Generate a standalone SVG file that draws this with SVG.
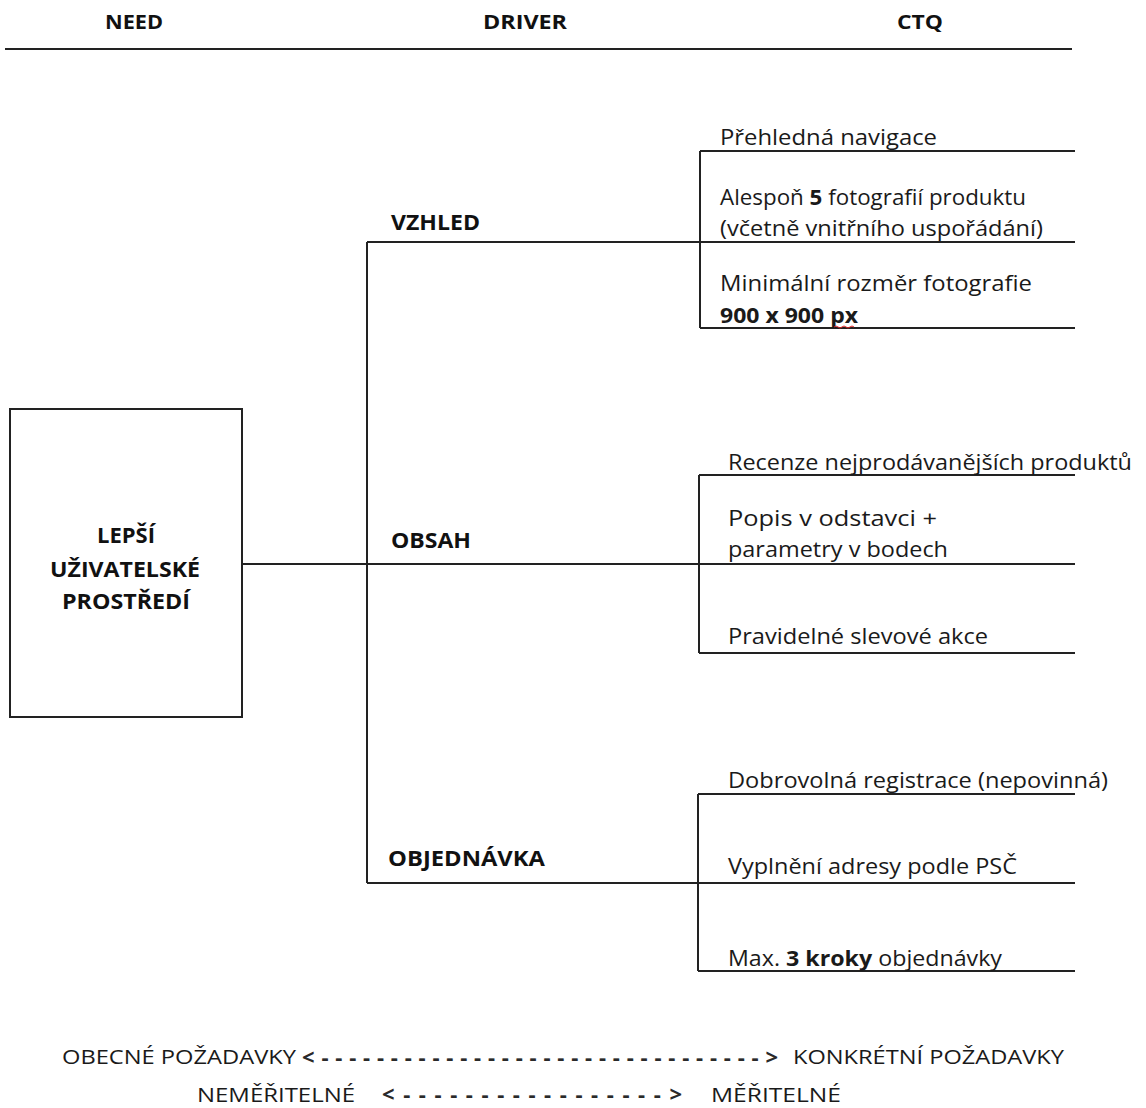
<svg xmlns="http://www.w3.org/2000/svg" width="1146" height="1108" viewBox="0 0 1146 1108">
<style>
.t{font-family:"Open Sans","Liberation Sans",sans-serif;font-size:22px;fill:#1a1a1a}
.b{font-family:"Open Sans","Liberation Sans",sans-serif;font-size:21px;font-weight:bold;fill:#111}
.h{font-family:"Open Sans","Liberation Sans",sans-serif;font-size:20px;font-weight:bold;fill:#111}
.n{font-family:"Open Sans","Liberation Sans",sans-serif;font-size:20px;fill:#1a1a1a}
.a{font-family:"Open Sans","Liberation Sans",sans-serif;font-size:22px;font-weight:bold;fill:#2a2a2a}
.ln{stroke:#222;stroke-width:2;fill:none}
</style>
<rect width="1146" height="1108" fill="#fff"/>
<g id="header">
<text class="h" x="105" y="29" textLength="58" lengthAdjust="spacingAndGlyphs">NEED</text>
<text class="h" x="483" y="29" textLength="84" lengthAdjust="spacingAndGlyphs">DRIVER</text>
<text class="h" x="897" y="29" textLength="46" lengthAdjust="spacingAndGlyphs">CTQ</text>
<line class="ln" x1="5" y1="49" x2="1072" y2="49"/>
</g>
<g id="connectors">
<line class="ln" x1="242" y1="564" x2="1075" y2="564"/>
<line class="ln" x1="367" y1="242" x2="367" y2="883"/>
<line class="ln" x1="367" y1="242" x2="1075" y2="242"/>
<line class="ln" x1="367" y1="883" x2="1075" y2="883"/>
<line class="ln" x1="700" y1="151" x2="700" y2="328"/>
<line class="ln" x1="700" y1="151" x2="1075" y2="151"/>
<line class="ln" x1="700" y1="328" x2="1075" y2="328"/>
<line class="ln" x1="699" y1="475" x2="699" y2="653"/>
<line class="ln" x1="699" y1="475" x2="1075" y2="475"/>
<line class="ln" x1="699" y1="653" x2="1075" y2="653"/>
<line class="ln" x1="698" y1="794" x2="698" y2="971"/>
<line class="ln" x1="698" y1="794" x2="1075" y2="794"/>
<line class="ln" x1="698" y1="971" x2="1075" y2="971"/>
</g>
<g id="need">
<rect x="10" y="409" width="232" height="308" fill="#fff" stroke="#222" stroke-width="2"/>
<text class="b" x="97" y="543" textLength="58" lengthAdjust="spacingAndGlyphs">LEPŠÍ</text>
<text class="b" x="50" y="577" textLength="150" lengthAdjust="spacingAndGlyphs">UŽIVATELSKÉ</text>
<text class="b" x="62" y="609" textLength="128" lengthAdjust="spacingAndGlyphs">PROSTŘEDÍ</text>
</g>
<g id="driver-vzhled"><text class="b" x="391" y="230" textLength="89" lengthAdjust="spacingAndGlyphs">VZHLED</text></g>
<g id="driver-obsah"><text class="b" x="391" y="548" textLength="80" lengthAdjust="spacingAndGlyphs">OBSAH</text></g>
<g id="driver-objednavka"><text class="b" x="388" y="866" textLength="157" lengthAdjust="spacingAndGlyphs">OBJEDNÁVKA</text></g>
<g id="ctq-1"><text class="t" x="720" y="145" textLength="217" lengthAdjust="spacingAndGlyphs">Přehledná navigace</text></g>
<g id="ctq-2"><text class="t" x="720" y="205" textLength="306" lengthAdjust="spacingAndGlyphs">Alespoň <tspan font-weight="bold">5</tspan> fotografií produktu</text>
<text class="t" x="720" y="236" textLength="323" lengthAdjust="spacingAndGlyphs">(včetně vnitřního uspořádání)</text></g>
<g id="ctq-3"><text class="t" x="720" y="291" textLength="312" lengthAdjust="spacingAndGlyphs">Minimální rozměr fotografie</text>
<text class="t" x="720" y="323" font-weight="bold" textLength="138" lengthAdjust="spacingAndGlyphs">900 x 900 px</text>
<path d="M834 327 q2 -2 4 0 t4 0 t4 0 t4 0 t4 0" stroke="#d22" stroke-width="1" fill="none"/></g>
<g id="ctq-4"><text class="t" x="728" y="470" textLength="404" lengthAdjust="spacingAndGlyphs">Recenze nejprodávanějších produktů</text></g>
<g id="ctq-5"><text class="t" x="728" y="526" textLength="209" lengthAdjust="spacingAndGlyphs">Popis v odstavci +</text>
<text class="t" x="728" y="557" textLength="220" lengthAdjust="spacingAndGlyphs">parametry v bodech</text></g>
<g id="ctq-6"><text class="t" x="728" y="644" textLength="260" lengthAdjust="spacingAndGlyphs">Pravidelné slevové akce</text></g>
<g id="ctq-7"><text class="t" x="728" y="788" textLength="380" lengthAdjust="spacingAndGlyphs">Dobrovolná registrace (nepovinná)</text></g>
<g id="ctq-8"><text class="t" x="728" y="874" textLength="289" lengthAdjust="spacingAndGlyphs">Vyplnění adresy podle PSČ</text></g>
<g id="ctq-9"><text class="t" x="728" y="966" textLength="274" lengthAdjust="spacingAndGlyphs">Max. <tspan font-weight="bold">3 kroky</tspan> objednávky</text></g>
<g id="legend">
<text class="n" x="62" y="1064" textLength="234" lengthAdjust="spacingAndGlyphs">OBECNÉ POŽADAVKY</text>
<text class="a" x="302" y="1065" textLength="476" lengthAdjust="spacing">&lt;--------------------------------&gt;</text>
<text class="n" x="793" y="1064" textLength="271" lengthAdjust="spacingAndGlyphs">KONKRÉTNÍ POŽADAVKY</text>
<text class="n" x="197" y="1102" textLength="158" lengthAdjust="spacingAndGlyphs">NEMĚŘITELNÉ</text>
<text class="a" x="382" y="1102" textLength="300" lengthAdjust="spacing">&lt;-----------------&gt;</text>
<text class="n" x="711" y="1102" textLength="130" lengthAdjust="spacingAndGlyphs">MĚŘITELNÉ</text>
</g>
</svg>
